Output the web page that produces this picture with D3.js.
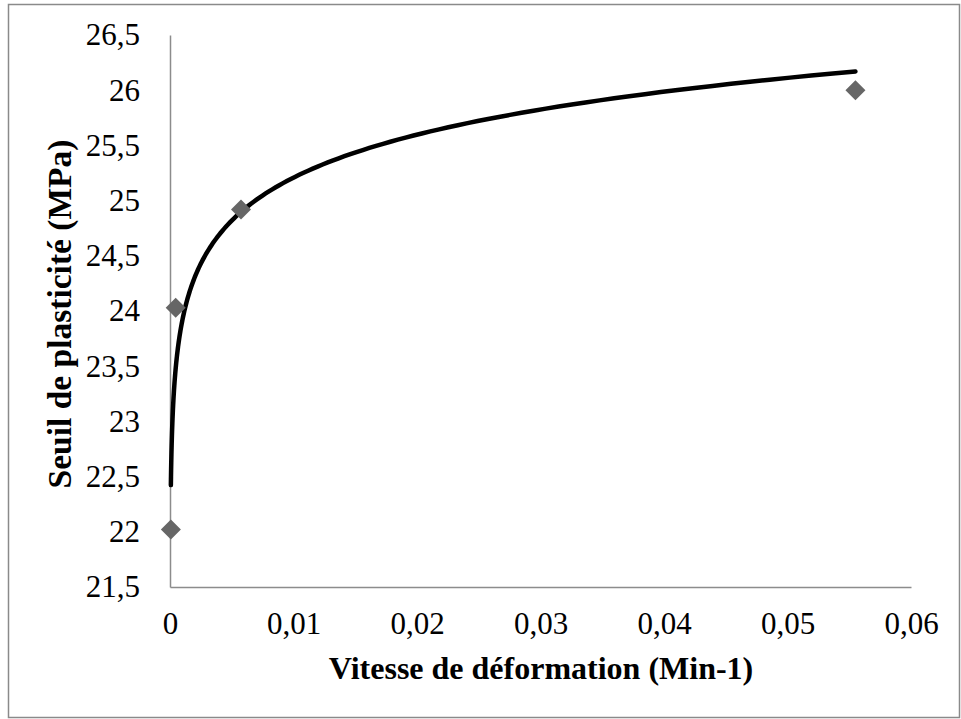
<!DOCTYPE html>
<html>
<head>
<meta charset="utf-8">
<script src="https://cdn.jsdelivr.net/npm/d3@7"></script>
<style>
  body { margin: 0; background: #fff; }
  text { font-family: "Liberation Serif", "Times New Roman", serif; fill: #000; }
  .tick text { font-size: 31px; }
  .axis-title { font-weight: bold; }
</style>
</head>
<body>
<svg width="961" height="719"></svg>
<script>
// strain rate (min-1) and yield stress (MPa)
var rates = [0.00007, 0.00046, 0.00575, 0.0555];
var stress = [22.02, 24.03, 24.92, 26.0];
var xTicks = [0, 0.01, 0.02, 0.03, 0.04, 0.05, 0.06];
var yTicks = [21.5, 22, 22.5, 23, 23.5, 24, 24.5, 25, 25.5, 26, 26.5];

var svg = d3.select("svg");

// outer frame
svg.append("rect")
    .attr("x", 8.5).attr("y", 4.5)
    .attr("width", 951).attr("height", 713)
    .attr("fill", "none")
    .attr("stroke", "#8a8a8a")
    .attr("stroke-width", 1.5);

var xScale = d3.scaleLinear().domain([0, 0.06]).range([170, 911]);
var yScale = d3.scaleLinear().domain([21.5, 26.5]).range([587, 35]);

var fmt = function(d) { return String(d).replace(".", ","); };

var xAxis = svg.append("g")
    .attr("transform", "translate(0,587)")
    .call(d3.axisBottom(xScale).tickValues(xTicks).tickFormat(fmt).tickSize(0).tickPadding(25));
xAxis.select(".domain").attr("stroke", "#8c8c8c").attr("stroke-width", 1.5);

var yAxis = svg.append("g")
    .attr("transform", "translate(170,0)")
    .call(d3.axisLeft(yScale).tickValues(yTicks).tickFormat(fmt).tickSize(0).tickPadding(30));
yAxis.select(".domain").attr("stroke", "#8c8c8c").attr("stroke-width", 1.5);
svg.selectAll(".tick text").attr("font-family", null).attr("font-size", null);

// logarithmic trend line, least squares y = a*ln(x) + b
var lx = rates.map(function(d) { return Math.log(d); });
var mx = d3.mean(lx), my = d3.mean(stress);
var sxy = d3.sum(lx, function(d, i) { return (d - mx) * (stress[i] - my); });
var sxx = d3.sum(lx, function(d) { return (d - mx) * (d - mx); });
var a = sxy / sxx, b = my - a * mx;

var xmin = d3.min(rates), xmax = d3.max(rates);
var trend = d3.range(0, 201).map(function(i) {
    var x = Math.exp(Math.log(xmin) + (Math.log(xmax) - Math.log(xmin)) * i / 200);
    return [x, a * Math.log(x) + b];
});

svg.append("path")
    .datum(trend)
    .attr("fill", "none")
    .attr("stroke", "#000")
    .attr("stroke-width", 4.5)
    .attr("stroke-linecap", "round")
    .attr("d", d3.line()
        .x(function(d) { return xScale(d[0]); })
        .y(function(d) { return yScale(d[1]); }));

// markers
svg.selectAll(".pt")
    .data(rates)
    .enter()
    .append("path")
    .attr("class", "pt")
    .attr("fill", "#666666")
    .attr("transform", function(d, i) {
        return "translate(" + xScale(d) + "," + yScale(stress[i]) + ") rotate(45)";
    })
    .attr("d", d3.symbol(d3.symbolSquare, 200));

svg.append("text")
    .attr("class", "axis-title")
    .attr("x", 541)
    .attr("y", 679)
    .attr("font-size", 32)
    .attr("text-anchor", "middle")
    .text("Vitesse de déformation (Min-1)");

svg.append("text")
    .attr("class", "axis-title")
    .attr("transform", "translate(71,314) rotate(-90)")
    .attr("font-size", 33.5)
    .attr("text-anchor", "middle")
    .text("Seuil de plasticité (MPa)");
</script>
</body>
</html>
